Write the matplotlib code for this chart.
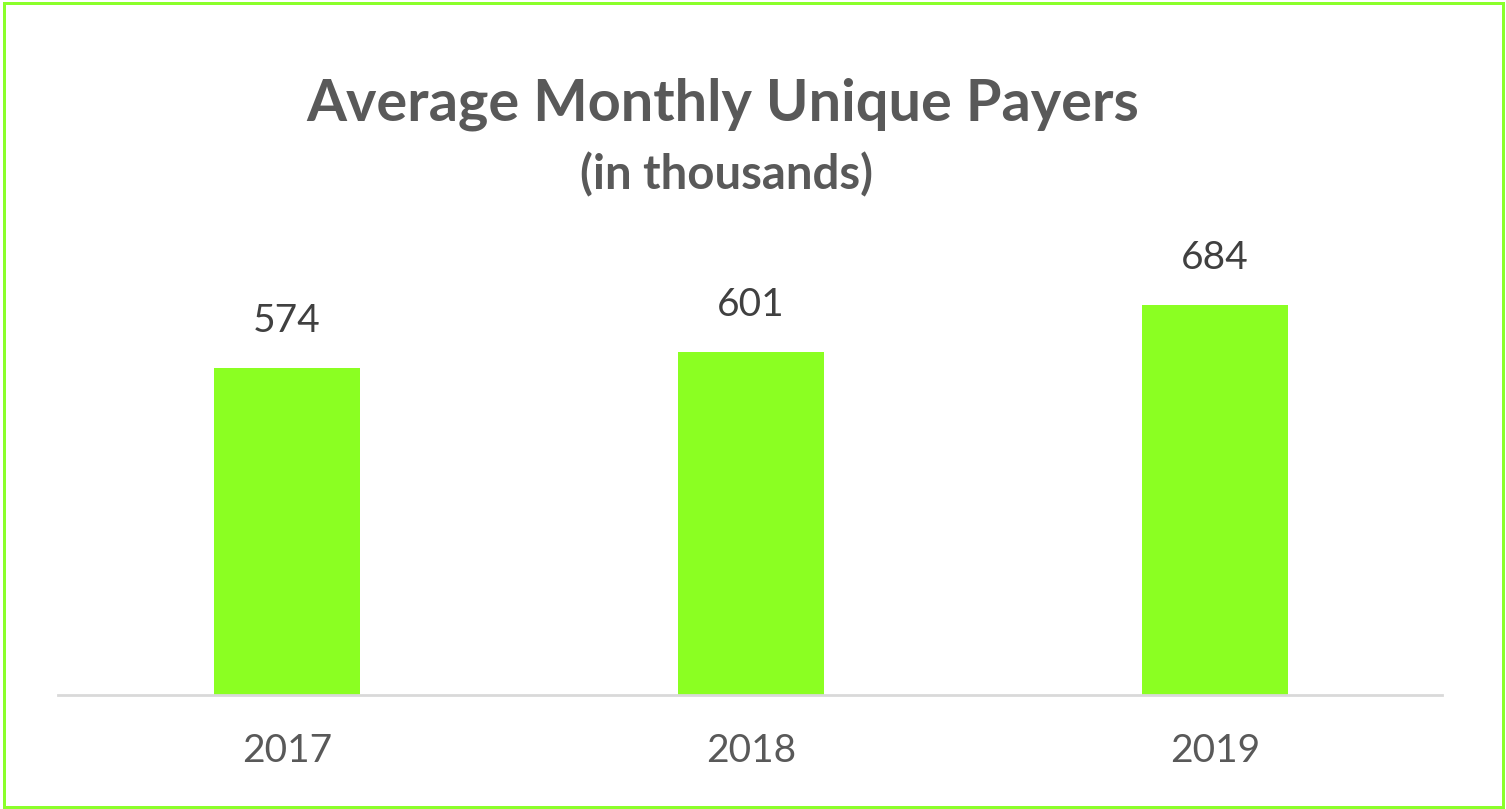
import matplotlib
matplotlib.use("Agg")
import matplotlib.pyplot as plt
from matplotlib.patches import Rectangle

years = ["2017", "2018", "2019"]
payers = [574, 601, 684]

title = "Average Monthly Unique Payers"
subtitle = "(in thousands)"

bar_color = "#8BFF22"
border_color = "#8BFF2A"

plt.rcParams['font.family'] = ['Lato', 'DejaVu Sans']

fig = plt.figure(figsize=(15.06, 8.09), dpi=100)
ax = fig.add_axes([58/1506, 1 - 695/809, (1442-58)/1506, (695-239)/809])

x = range(len(years))
ax.bar(x, payers, width=0.315, color=bar_color, zorder=2)
ax.set_xlim(-0.4935, 2.489)
ax.set_ylim(0, 800)
for xi, v in zip(x, payers):
    ax.annotate(f"{v}", (xi, v), xytext=(0, 29), textcoords="offset pixels",
                ha="center", va="bottom", fontsize=28, color="#404040")

ax.set_xticks(list(x))
ax.set_xticklabels(years, fontsize=28, color="#595959")
ax.tick_params(axis='x', length=0, pad=27)
ax.set_yticks([])
for s in ["left", "right", "top"]:
    ax.spines[s].set_visible(False)
ax.spines["bottom"].set_color("#D9D9D9")
ax.spines["bottom"].set_linewidth(2)

fig.text(723/1506, 1 - 104/809, title, ha="center", va="center",
         fontsize=41.5, fontweight="bold", color="#595959")
fig.text(727/1506, 1 - 175/809, subtitle, ha="center", va="center",
         fontsize=34, fontweight="bold", color="#595959")

fig.patches.append(Rectangle((3.5/1506, 2.5/809), (1503-3.5)/1506, (806-2.5)/809,
                             transform=fig.transFigure, fill=False,
                             edgecolor=border_color, linewidth=3*72/100))

fig.savefig("out.png", dpi=100)
